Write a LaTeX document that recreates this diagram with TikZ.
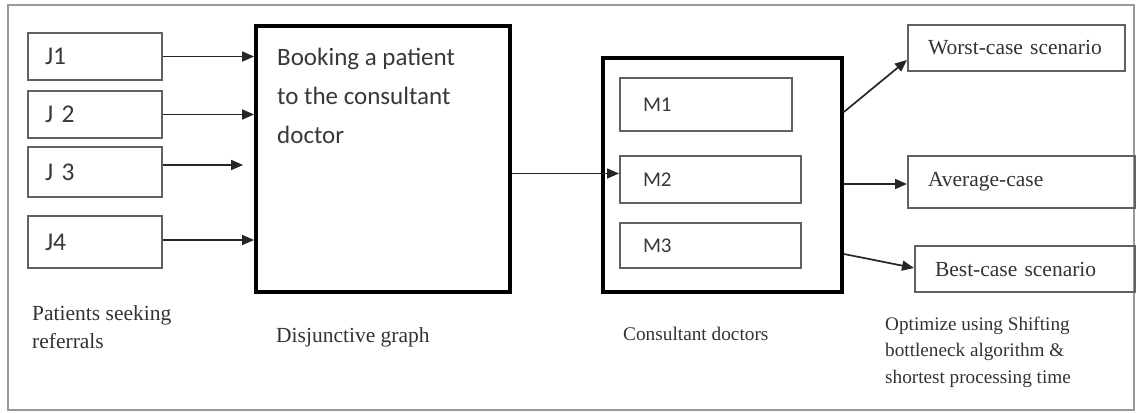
\documentclass[tikz,border=0pt]{standalone}
\usepackage{fontspec}
\setmainfont{Liberation Serif}
\newfontfamily\calibrilike{Carlito}
\usetikzlibrary{arrows.meta,calc}

\begin{document}
\begin{tikzpicture}[x=1pt,y=-1pt,
  outer/.style={draw=black!40,line width=1.8pt},
  thinbox/.style={draw=black!62,line width=2pt,rectangle,inner sep=0pt,align=left},
  thickbox/.style={draw=black,line width=3.8pt,rectangle,inner sep=0pt},
  jlabel/.style={thinbox,inner xsep=17pt,text width=100pt,
    font=\calibrilike\fontsize{25.5}{29}\selectfont,text=black!78},
  mlabel/.style={thinbox,inner xsep=23pt,
    font=\calibrilike\fontsize{21}{25}\selectfont,text=black!78},
  caselabel/.style={thinbox,inner xsep=20pt,
    font=\fontsize{21.5}{26}\selectfont,text=black!80},
  caption/.style={inner sep=0pt,align=left,text=black!80},
  arr/.style={draw=black!85,line width=1.7pt,-{Triangle[length=12pt,width=10pt]}},
]
\useasboundingbox (0,0) rectangle (1137,412);
\draw[outer] (8,5) rectangle (1134,410);

% incoming referrals
\node[jlabel,minimum height=47pt] (j1) at (95,56.5) {J1};
\node[jlabel,minimum height=47pt] (j2) at (95,114.5) {J 2};
\node[jlabel,minimum height=50pt] (j3) at (95,172) {J 3};
\node[jlabel,minimum height=52pt] (j4) at (95,242) {J4};

% booking step (the base anchor of a multi-line node sits on its last line)
\node[thickbox,minimum width=254pt,minimum height=266pt] (book) at (383,159) {};
\node[anchor=base west,inner sep=0pt,align=left,text=black!78,
  font=\calibrilike\fontsize{25}{39}\selectfont] (booktxt) at (277,143)
  {Booking a patient\\to the consultant\\doctor};

% consultants
\node[thickbox,minimum width=239pt,minimum height=234pt] (docs) at (722.5,175) {};
\node[mlabel,text width=126pt,minimum height=53pt] (m1) at (706,104.5) {M1};
\node[mlabel,text width=135pt,minimum height=47pt] (m2) at (710.5,179.5) {M2};
\node[mlabel,text width=135pt,minimum height=45pt] (m3) at (710.5,245.5) {M3};

% outcomes
\node[caselabel,text width=177pt,minimum height=46pt] (worst) at (1016.5,48) {Worst-case scenario};
\node[caselabel,text width=187pt,minimum height=52pt] (avg) at (1021.5,182) {Average-case};
\node[caselabel,text width=180pt,minimum height=46pt] (best) at (1025,269) {Best-case scenario};

% captions
\node[caption,anchor=base west,font=\fontsize{21.5}{28}\selectfont] (capj) at (32,348) {Patients seeking\\referrals};
\node[caption,anchor=base west,font=\fontsize{21.5}{26}\selectfont] (capb) at (276,342) {Disjunctive graph};
\node[caption,anchor=base west,font=\fontsize{19.3}{24}\selectfont] (capd) at (623,340) {Consultant doctors};
\node[caption,anchor=base west,font=\fontsize{19.2}{26.5}\selectfont] (capo) at (885,383)
  {Optimize using Shifting\\bottleneck algorithm \&\\shortest processing time};

% connectors
\draw[arr] (j1.east) -- (j1.east -| book.west);
\draw[arr] (j2.east) -- (j2.east -| book.west);
\draw[arr,shorten >=11pt] ($(j3.east)+(0,-7)$) -- ($(j3.east -| book.west)+(0,-7)$);
\draw[arr] ($(j4.east)+(0,-2)$) -- ($(j4.east -| book.west)+(0,-2)$);
\draw[arr] ($(book.east |- m2.west)+(0,-6)$) -- ($(m2.west)+(0,-6)$);
\draw[arr] ($(docs.east)+(0,-63)$) -- ($(worst.west)+(0,12)$);
\draw[arr] ($(docs.east |- avg.west)+(0,2)$) -- ($(avg.west)+(0,2)$);
\draw[arr] ($(docs.east)+(0,79)$) -- ($(best.west)+(0,-1)$);
\end{tikzpicture}
\end{document}
